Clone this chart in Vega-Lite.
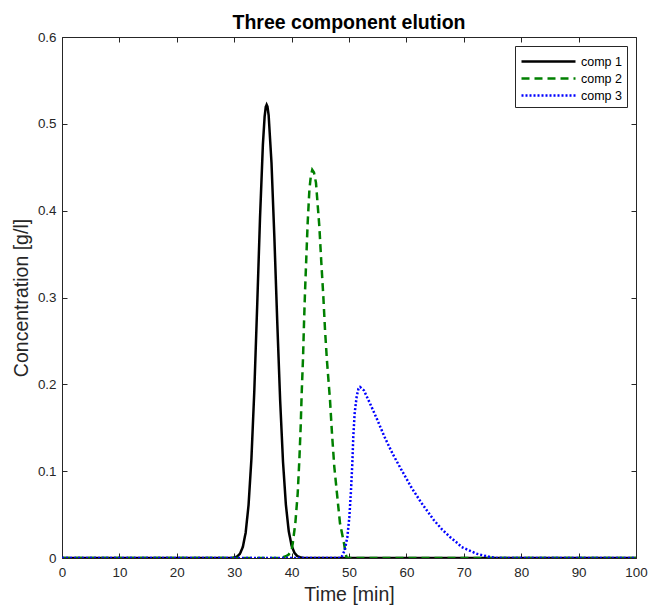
{
  "$schema": "https://vega.github.io/schema/vega-lite/v6.json",
  "width": 574,
  "height": 521,
  "autosize": {"type": "none"},
  "padding": {"left": 62, "top": 37, "right": 14, "bottom": 48},
  "background": "white",
  "config": {
    "view": {"stroke": null},
    "font": "Liberation Sans",
    "axis": {"grid": false, "domainColor": "#262626", "tickColor": "#262626", "labelColor": "#262626", "titleColor": "#262626", "labelFont": "Liberation Sans", "titleFont": "Liberation Sans", "labelFontSize": 13.4, "titleFontSize": 19.5, "titleFontWeight": "normal", "tickSize": -5, "domainWidth": 1, "labelFlush": false}
  },
  "title": {"text": "Three component elution", "fontSize": 19.5, "fontWeight": "bold", "font": "Liberation Sans", "color": "#000000", "offset": -3},
  "data": {"values": [
    {"t": 0, "c": 0, "comp": "comp 1"},
    {"t": 29.5, "c": 0, "comp": "comp 1"},
    {"t": 30, "c": 0.0005, "comp": "comp 1"},
    {"t": 30.5, "c": 0.0017, "comp": "comp 1"},
    {"t": 31, "c": 0.0048, "comp": "comp 1"},
    {"t": 31.5, "c": 0.0126, "comp": "comp 1"},
    {"t": 32, "c": 0.0292, "comp": "comp 1"},
    {"t": 32.5, "c": 0.061, "comp": "comp 1"},
    {"t": 33, "c": 0.1142, "comp": "comp 1"},
    {"t": 33.5, "c": 0.192, "comp": "comp 1"},
    {"t": 34, "c": 0.2896, "comp": "comp 1"},
    {"t": 34.5, "c": 0.3921, "comp": "comp 1"},
    {"t": 35, "c": 0.4764, "comp": "comp 1"},
    {"t": 35.3, "c": 0.5083, "comp": "comp 1"},
    {"t": 35.5, "c": 0.5195, "comp": "comp 1"},
    {"t": 35.65, "c": 0.522, "comp": "comp 1"},
    {"t": 35.8, "c": 0.5198, "comp": "comp 1"},
    {"t": 36, "c": 0.51, "comp": "comp 1"},
    {"t": 36.5, "c": 0.4549, "comp": "comp 1"},
    {"t": 37, "c": 0.3689, "comp": "comp 1"},
    {"t": 37.5, "c": 0.272, "comp": "comp 1"},
    {"t": 38, "c": 0.1823, "comp": "comp 1"},
    {"t": 38.5, "c": 0.1111, "comp": "comp 1"},
    {"t": 39, "c": 0.0616, "comp": "comp 1"},
    {"t": 39.5, "c": 0.031, "comp": "comp 1"},
    {"t": 40, "c": 0.0142, "comp": "comp 1"},
    {"t": 40.5, "c": 0.0059, "comp": "comp 1"},
    {"t": 41, "c": 0.0022, "comp": "comp 1"},
    {"t": 41.5, "c": 0.0008, "comp": "comp 1"},
    {"t": 42, "c": 0.0002, "comp": "comp 1"},
    {"t": 42.5, "c": 0, "comp": "comp 1"},
    {"t": 100, "c": 0, "comp": "comp 1"},
    {"t": 0, "c": 0, "comp": "comp 2"},
    {"t": 38, "c": 0, "comp": "comp 2"},
    {"t": 38.5, "c": 0.001, "comp": "comp 2"},
    {"t": 39, "c": 0.002, "comp": "comp 2"},
    {"t": 39.5, "c": 0.004, "comp": "comp 2"},
    {"t": 40, "c": 0.009, "comp": "comp 2"},
    {"t": 40.2, "c": 0.017, "comp": "comp 2"},
    {"t": 40.65, "c": 0.04, "comp": "comp 2"},
    {"t": 41.06, "c": 0.074, "comp": "comp 2"},
    {"t": 41.35, "c": 0.113, "comp": "comp 2"},
    {"t": 41.58, "c": 0.151, "comp": "comp 2"},
    {"t": 41.76, "c": 0.19, "comp": "comp 2"},
    {"t": 42.0, "c": 0.232, "comp": "comp 2"},
    {"t": 42.16, "c": 0.27, "comp": "comp 2"},
    {"t": 42.33, "c": 0.305, "comp": "comp 2"},
    {"t": 42.57, "c": 0.347, "comp": "comp 2"},
    {"t": 42.8, "c": 0.386, "comp": "comp 2"},
    {"t": 43.1, "c": 0.424, "comp": "comp 2"},
    {"t": 43.35, "c": 0.44, "comp": "comp 2"},
    {"t": 43.6, "c": 0.447, "comp": "comp 2"},
    {"t": 43.9, "c": 0.444, "comp": "comp 2"},
    {"t": 44.25, "c": 0.432, "comp": "comp 2"},
    {"t": 44.83, "c": 0.382, "comp": "comp 2"},
    {"t": 45.18, "c": 0.34, "comp": "comp 2"},
    {"t": 45.53, "c": 0.301, "comp": "comp 2"},
    {"t": 45.82, "c": 0.263, "comp": "comp 2"},
    {"t": 46.15, "c": 0.228, "comp": "comp 2"},
    {"t": 46.69, "c": 0.182, "comp": "comp 2"},
    {"t": 47.04, "c": 0.143, "comp": "comp 2"},
    {"t": 47.44, "c": 0.105, "comp": "comp 2"},
    {"t": 47.97, "c": 0.07, "comp": "comp 2"},
    {"t": 48.43, "c": 0.04, "comp": "comp 2"},
    {"t": 49.13, "c": 0.017, "comp": "comp 2"},
    {"t": 49.42, "c": 0.005, "comp": "comp 2"},
    {"t": 49.6, "c": 0, "comp": "comp 2"},
    {"t": 100, "c": 0, "comp": "comp 2"},
    {"t": 0, "c": 0, "comp": "comp 3"},
    {"t": 48.5, "c": 0, "comp": "comp 3"},
    {"t": 48.7, "c": 0.001, "comp": "comp 3"},
    {"t": 49.25, "c": 0.009, "comp": "comp 3"},
    {"t": 49.71, "c": 0.024, "comp": "comp 3"},
    {"t": 50.06, "c": 0.047, "comp": "comp 3"},
    {"t": 50.35, "c": 0.078, "comp": "comp 3"},
    {"t": 50.58, "c": 0.109, "comp": "comp 3"},
    {"t": 50.75, "c": 0.14, "comp": "comp 3"},
    {"t": 50.99, "c": 0.167, "comp": "comp 3"},
    {"t": 51.34, "c": 0.186, "comp": "comp 3"},
    {"t": 51.65, "c": 0.195, "comp": "comp 3"},
    {"t": 51.92, "c": 0.197, "comp": "comp 3"},
    {"t": 52.6, "c": 0.193, "comp": "comp 3"},
    {"t": 53.66, "c": 0.178, "comp": "comp 3"},
    {"t": 54.94, "c": 0.159, "comp": "comp 3"},
    {"t": 56.15, "c": 0.14, "comp": "comp 3"},
    {"t": 57.6, "c": 0.12, "comp": "comp 3"},
    {"t": 59.18, "c": 0.101, "comp": "comp 3"},
    {"t": 60.8, "c": 0.082, "comp": "comp 3"},
    {"t": 62.66, "c": 0.063, "comp": "comp 3"},
    {"t": 64.8, "c": 0.0435, "comp": "comp 3"},
    {"t": 66.2, "c": 0.033, "comp": "comp 3"},
    {"t": 67.6, "c": 0.0242, "comp": "comp 3"},
    {"t": 69.0, "c": 0.0166, "comp": "comp 3"},
    {"t": 69.6, "c": 0.0127, "comp": "comp 3"},
    {"t": 72.2, "c": 0.005, "comp": "comp 3"},
    {"t": 74.6, "c": 0.001, "comp": "comp 3"},
    {"t": 75.7, "c": 0, "comp": "comp 3"},
    {"t": 100, "c": 0, "comp": "comp 3"}
  ]},
  "layer": [
    {
      "mark": {"type": "line", "strokeWidth": 2.5, "clip": true},
      "encoding": {
        "x": {"field": "t", "type": "quantitative", "scale": {"domain": [0, 100], "nice": false},
              "axis": {"orient": "bottom", "title": "Time [min]", "values": [0,10,20,30,40,50,60,70,80,90,100], "labelPadding": 12, "titlePadding": 7}},
        "y": {"field": "c", "type": "quantitative", "scale": {"domain": [0, 0.6], "nice": false},
              "axis": {"orient": "left", "title": "Concentration [g/l]", "values": [0,0.1,0.2,0.3,0.4,0.5,0.6], "format": "~g", "labelPadding": 11, "titlePadding": 6}},
        "color": {"field": "comp", "type": "nominal",
                  "scale": {"domain": ["comp 1", "comp 2", "comp 3"], "range": ["#000000", "#008000", "#0000ff"]},
                  "legend": {"title": null, "orient": "top-right", "offset": 9, "symbolType": "M-3,0H3", "symbolSize": 324, "symbolOffset": 18, "symbolStrokeWidth": 2.5, "rowPadding": 0, "labelFontSize": 12.5, "labelColor": "#000000", "labelFont": "Liberation Sans", "strokeColor": "#262626", "fillColor": "white", "padding": 5, "labelOffset": 22}},
        "strokeDash": {"field": "comp", "type": "nominal",
                  "scale": {"domain": ["comp 1", "comp 2", "comp 3"], "range": [[1, 0], [8, 5], [2, 2]]},
                  "legend": {"title": null, "orient": "top-right", "offset": 9, "symbolType": "M-3,0H3", "symbolSize": 324, "symbolOffset": 18, "symbolStrokeWidth": 2.5, "rowPadding": 0, "labelFontSize": 12.5, "labelColor": "#000000", "labelFont": "Liberation Sans", "strokeColor": "#262626", "fillColor": "white", "padding": 5, "labelOffset": 22}}
      }
    },
    {
      "mark": {"type": "line", "opacity": 0},
      "encoding": {
        "x": {"field": "t", "type": "quantitative", "axis": {"orient": "top", "title": null, "labels": false, "values": [0,10,20,30,40,50,60,70,80,90,100]}},
        "y": {"field": "c", "type": "quantitative", "axis": {"orient": "right", "title": null, "labels": false, "values": [0,0.1,0.2,0.3,0.4,0.5,0.6]}},
        "detail": {"field": "comp", "type": "nominal"}
      }
    }
  ],
  "resolve": {"axis": {"x": "independent", "y": "independent"}}
}
